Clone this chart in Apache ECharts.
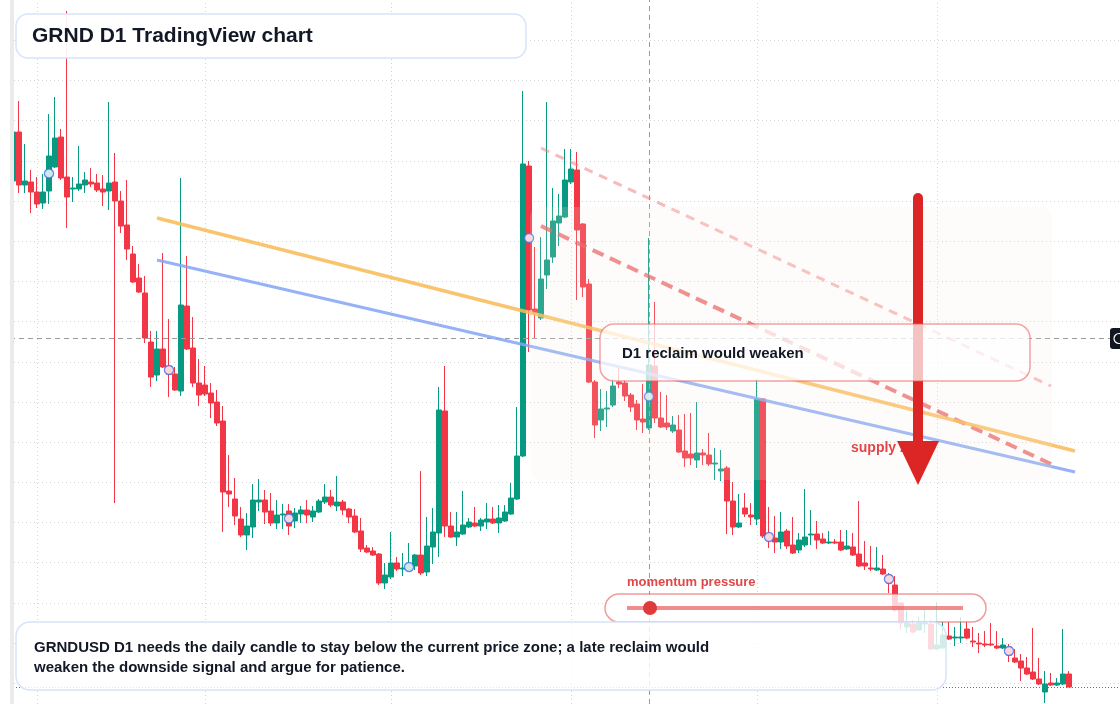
<!DOCTYPE html>
<html>
<head>
<meta charset="utf-8">
<title>GRND D1 TradingView chart</title>
<script src="https://cdn.jsdelivr.net/npm/echarts@6/dist/echarts.min.js"></script>
<style>
  html, body { margin: 0; padding: 0; background: #fff; }
  #chart { width: 1120px; height: 704px; }
</style>
</head>
<body>
<div id="chart"></div>
<script>
// daily bars from 2025-01-28, last 8 days are empty right margin
const firstDay = Date.UTC(2025, 0, 28)
const dayCount = 185
const categories = []
for (let i = 0; i < dayCount; i++) {
  categories.push(new Date(firstDay + i * 864e5).toISOString().slice(0, 10))
}

const opens = [
  1.541,1.590,1.537,1.540,1.530,1.519,1.531,1.555,1.585,1.545,
  1.533,1.533,1.537,1.540,1.539,1.533,1.531,1.540,1.521,1.497,
  1.468,1.444,1.429,1.380,1.347,1.373,1.356,1.348,1.331,1.416,
  1.374,1.339,1.337,1.329,1.320,1.301,1.231,1.223,1.203,1.187,
  1.195,1.220,1.222,1.211,1.199,1.207,1.211,1.201,1.208,1.212,
  1.205,1.210,1.220,1.225,1.216,1.220,1.213,1.206,1.191,1.174,
  1.171,1.168,1.139,1.145,1.159,1.153,1.152,1.156,1.167,1.150,
  1.175,1.189,1.311,1.196,1.185,1.188,1.195,1.199,1.196,1.200,
  1.203,1.199,1.201,1.208,1.223,1.266,1.556,1.413,1.404,1.447,
  1.465,1.499,1.505,1.540,1.552,1.498,1.438,1.340,1.302,1.313,
  1.317,1.340,1.339,1.327,1.318,1.303,1.294,1.356,1.304,1.299,
  1.291,1.292,1.271,1.268,1.262,1.269,1.267,1.258,1.251,1.254,
  1.221,1.195,1.214,1.207,1.203,1.323,1.188,1.184,1.180,1.191,
  1.177,1.172,1.177,1.187,1.188,1.183,1.179,1.180,1.180,1.173,
  1.175,1.168,1.159,1.154,1.152,1.153,1.147,1.137,1.119,1.095,
  1.098,1.092,1.098,1.098,1.073,1.074,1.086,1.084,1.084,1.093,
  1.081,1.079,1.078,1.078,1.076,1.074,1.075,1.064,1.061,1.054,
  1.050,1.043,1.030,1.039,1.037,1.038,1.048
]
const closes = [
  1.590,1.537,1.541,1.530,1.518,1.530,1.566,1.584,1.544,1.525,
  1.534,1.538,1.542,1.538,1.532,1.530,1.539,1.521,1.496,1.473,
  1.440,1.430,1.384,1.345,1.373,1.355,1.348,1.332,1.417,1.373,
  1.339,1.327,1.328,1.319,1.299,1.230,1.228,1.206,1.187,1.196,
  1.222,1.222,1.210,1.199,1.207,1.208,1.196,1.209,1.212,1.207,
  1.211,1.221,1.225,1.217,1.220,1.212,1.205,1.190,1.173,1.170,
  1.167,1.139,1.147,1.159,1.153,1.154,1.158,1.167,1.149,1.176,
  1.190,1.312,1.196,1.185,1.190,1.197,1.200,1.196,1.202,1.203,
  1.199,1.204,1.210,1.224,1.266,1.558,1.412,1.409,1.443,1.462,
  1.501,1.506,1.542,1.553,1.492,1.435,1.340,1.297,1.313,1.314,
  1.336,1.338,1.326,1.315,1.302,1.300,1.357,1.304,1.295,1.295,
  1.297,1.270,1.264,1.264,1.269,1.267,1.258,1.259,1.253,1.221,
  1.195,1.199,1.208,1.205,1.323,1.186,1.182,1.180,1.190,1.176,
  1.169,1.182,1.185,1.188,1.182,1.179,1.180,1.179,1.172,1.176,
  1.167,1.156,1.156,1.153,1.154,1.148,1.139,1.112,1.099,1.099,
  1.090,1.100,1.099,1.073,1.077,1.087,1.083,1.085,1.085,1.084,
  1.080,1.078,1.077,1.077,1.074,1.077,1.067,1.060,1.054,1.048,
  1.043,1.038,1.038,1.037,1.039,1.048,1.035
]
const lows = [
  1.540,1.529,1.529,1.509,1.514,1.513,1.518,1.554,1.542,1.494,
  1.520,1.531,1.529,1.535,1.530,1.516,1.512,1.219,1.489,1.462,
  1.439,1.429,1.379,1.335,1.341,1.354,1.325,1.331,1.326,1.372,
  1.335,1.316,1.326,1.304,1.296,1.190,1.215,1.197,1.185,1.172,
  1.184,1.211,1.198,1.196,1.193,1.193,1.187,1.194,1.199,1.199,
  1.200,1.209,1.218,1.215,1.211,1.207,1.199,1.189,1.170,1.169,
  1.166,1.137,1.133,1.143,1.151,1.146,1.151,1.152,1.147,1.146,
  1.158,1.165,1.185,1.184,1.176,1.187,1.194,1.195,1.191,1.193,
  1.198,1.189,1.200,1.207,1.222,1.265,1.370,1.384,1.402,1.433,
  1.459,1.476,1.504,1.538,1.422,1.425,1.339,1.284,1.291,1.295,
  1.315,1.334,1.321,1.310,1.292,1.289,1.292,1.299,1.294,1.292,
  1.289,1.269,1.255,1.257,1.254,1.257,1.256,1.242,1.241,1.188,
  1.187,1.194,1.205,1.197,1.197,1.184,1.174,1.169,1.173,1.173,
  1.168,1.169,1.175,1.177,1.173,1.178,1.178,1.178,1.171,1.172,
  1.166,1.155,1.152,1.151,1.151,1.147,1.129,1.110,1.092,1.089,
  1.089,1.091,1.089,1.072,1.072,1.073,1.082,1.076,1.079,1.083,
  1.075,1.069,1.075,1.076,1.073,1.073,1.060,1.059,1.041,1.047,
  1.042,1.037,1.019,1.036,1.036,1.037,1.035
]
const highs = [
  1.591,1.621,1.578,1.552,1.545,1.548,1.608,1.625,1.593,1.711,
  1.545,1.576,1.550,1.554,1.548,1.547,1.620,1.569,1.531,1.542,
  1.476,1.458,1.446,1.391,1.391,1.469,1.403,1.355,1.544,1.466,
  1.405,1.363,1.356,1.339,1.332,1.316,1.267,1.244,1.215,1.209,
  1.238,1.243,1.232,1.229,1.222,1.218,1.218,1.214,1.216,1.222,
  1.216,1.223,1.238,1.232,1.246,1.222,1.214,1.213,1.204,1.177,
  1.175,1.169,1.159,1.190,1.165,1.169,1.179,1.168,1.251,1.205,
  1.214,1.335,1.356,1.210,1.210,1.231,1.204,1.215,1.204,1.219,
  1.215,1.217,1.217,1.239,1.315,1.631,1.561,1.475,1.485,1.620,
  1.534,1.528,1.573,1.573,1.570,1.499,1.443,1.342,1.333,1.331,
  1.343,1.354,1.342,1.329,1.322,1.338,1.484,1.420,1.330,1.327,
  1.306,1.307,1.308,1.309,1.320,1.273,1.289,1.274,1.272,1.256,
  1.240,1.228,1.229,1.219,1.343,1.324,1.215,1.206,1.210,1.193,
  1.205,1.189,1.233,1.212,1.201,1.189,1.191,1.183,1.192,1.192,
  1.189,1.221,1.181,1.176,1.175,1.167,1.149,1.146,1.120,1.112,
  1.102,1.105,1.112,1.102,1.120,1.100,1.100,1.095,1.105,1.101,
  1.095,1.089,1.091,1.099,1.091,1.084,1.078,1.073,1.068,1.065,
  1.094,1.064,1.051,1.049,1.044,1.093,1.051
]

// horizontal price grid
const gridPrices = [1.039, 1.079, 1.119, 1.160, 1.200, 1.240, 1.280, 1.320, 1.360,
  1.401, 1.441, 1.481, 1.521, 1.561, 1.602, 1.642, 1.682]
// bars with the blue ring marker
const markerIdx = [6, 26, 46, 66, 86, 106, 126, 146, 166]
// crosshair
const crossIdx = 106
const crossPrice = 1.384
// drawn lines: [bar index, price]
const trendYellow = [[24, 1.504], [177, 1.271]]
const trendBlue = [[24, 1.462], [177, 1.250]]
const resistNear = [[88, 1.496], [173, 1.258]]
const resistFar = [[88, 1.574], [173, 1.336]]

const candles = opens.map((o, i) => [o, closes[i], lows[i], highs[i]])
const markers = markerIdx.map(i => [i, (opens[i] + closes[i]) / 2])
const gridLines = categories.filter(d => d.endsWith('-01')).map(d => ({ xAxis: d }))
  .concat(gridPrices.map(p => ({ yAxis: p })))
const lastClose = closes[closes.length - 1]

const FONT = '"Liberation Sans", Arial, sans-serif'
const dark = '#121826'
const redText = '#e24646'

function seg (pts, lineStyle) {
  return [{ coord: pts[0], lineStyle: lineStyle }, { coord: pts[1] }]
}

const option = {
  animation: false,
  backgroundColor: '#fff',
  grid: { left: 10, right: 0, top: 0, bottom: 0 },
  xAxis: {
    type: 'category',
    data: categories,
    boundaryGap: true,
    axisLine: { show: false },
    axisTick: { show: false },
    axisLabel: { show: false },
    splitLine: { show: false }
  },
  yAxis: {
    type: 'value',
    min: 1.018,
    max: 1.722,
    axisLine: { show: false },
    axisTick: { show: false },
    axisLabel: { show: false },
    splitLine: { show: false }
  },
  series: [
    {
      name: 'grid',
      type: 'line',
      data: [],
      silent: true,
      markLine: {
        z: 1,
        silent: true,
        precision: 3,
        symbol: ['none', 'none'],
        label: { show: false },
        lineStyle: { color: '#d4d4d4', type: [1, 3], width: 1 },
        data: gridLines
      }
    },
    {
      name: 'last price',
      type: 'line',
      data: [],
      silent: true,
      color: '#f23645',
      markLine: {
        z: 4,
        silent: true,
        precision: 3,
        symbol: ['none', 'none'],
        label: { show: false },
        lineStyle: { color: '#f23645', type: [1, 2], width: 1, opacity: 1 },
        data: [{ yAxis: lastClose }]
      }
    },
    {
      name: 'GRNDUSD',
      type: 'candlestick',
      data: candles,
      barWidth: 4.6,
      silent: true,
      itemStyle: {
        color: '#089981',
        color0: '#f23645',
        borderColor: '#089981',
        borderColor0: '#f23645',
        borderWidth: 1
      },
      markLine: {
        silent: true,
        precision: 3,
        symbol: ['none', 'none'],
        label: { show: false },
        emphasis: { disabled: true },
        data: [
          { xAxis: categories[crossIdx], lineStyle: { color: '#9a9a9a', type: [5, 4], width: 1 } },
          { yAxis: crossPrice, lineStyle: { color: '#9a9a9a', type: [5, 4], width: 1 } },
          seg(resistFar, { color: 'rgba(240,120,120,0.5)', type: [9, 7], width: 3 }),
          seg(resistNear, { color: 'rgba(230,85,85,0.75)', type: [12, 7], width: 4 }),
          seg(trendYellow, { color: 'rgba(248,186,84,0.85)', type: 'solid', width: 3.5 }),
          seg(trendBlue, { color: 'rgba(130,165,245,0.85)', type: 'solid', width: 3 })
        ]
      }
    },
    {
      name: 'markers',
      type: 'scatter',
      data: markers,
      z: 6,
      silent: true,
      symbol: 'circle',
      symbolSize: 9,
      itemStyle: { color: '#ffffff', borderColor: '#3f6fe6', borderWidth: 1.5 }
    }
  ],
  graphic: [
    // supply zone tint
    { type: 'rect', z: 10, silent: true, shape: { x: 530, y: 207, width: 522, height: 273, r: 10 }, style: { fill: 'rgba(250,236,226,0.16)' } },
    // arrow
    { type: 'rect', z: 11, silent: true, shape: { x: 913, y: 193, width: 10, height: 252, r: [5, 5, 0, 0] }, style: { fill: '#dc2626' } },
    { type: 'text', z: 12, silent: true, x: 851, y: 448, style: { text: 'supply zone', fill: redText, fontSize: 14, fontWeight: 'bold', fontFamily: FONT, verticalAlign: 'middle' } },
    { type: 'polygon', z: 13, silent: true, shape: { points: [[897, 441], [939, 441], [918, 485]] }, style: { fill: '#dc2626' } },
    // reclaim note
    { type: 'rect', z: 14, silent: true, shape: { x: 600, y: 324, width: 430, height: 57, r: 14 }, style: { fill: 'rgba(255,255,255,0.72)', stroke: 'rgba(232,90,90,0.55)', lineWidth: 1.5 } },
    { type: 'text', z: 15, silent: true, x: 622, y: 354, style: { text: 'D1 reclaim would weaken', fill: dark, fontSize: 15, fontWeight: 'bold', fontFamily: FONT, verticalAlign: 'middle' } },
    // momentum gauge
    { type: 'text', z: 15, silent: true, x: 627, y: 582, style: { text: 'momentum pressure', fill: redText, fontSize: 13, fontWeight: 'bold', fontFamily: FONT, verticalAlign: 'middle' } },
    { type: 'rect', z: 16, silent: true, shape: { x: 605, y: 594, width: 381, height: 28, r: 14 }, style: { fill: 'rgba(255,255,255,0.78)', stroke: 'rgba(232,90,90,0.6)', lineWidth: 1.5 } },
    { type: 'line', z: 17, silent: true, shape: { x1: 627, y1: 608, x2: 963, y2: 608 }, style: { stroke: 'rgba(230,80,80,0.65)', lineWidth: 4 } },
    { type: 'circle', z: 18, silent: true, shape: { cx: 650, cy: 608, r: 7 }, style: { fill: '#e03a3a' } },
    // bottom note
    { type: 'rect', z: 19, silent: true, shape: { x: 16, y: 622, width: 930, height: 68, r: 14 }, style: { fill: 'rgba(255,255,255,0.82)', stroke: '#d6e4fa', lineWidth: 1.5 } },
    { type: 'text', z: 20, silent: true, x: 34, y: 648, style: { text: 'GRNDUSD D1 needs the daily candle to stay below the current price zone; a late reclaim would', fill: dark, fontSize: 15, fontWeight: 'bold', fontFamily: FONT, verticalAlign: 'middle' } },
    { type: 'text', z: 20, silent: true, x: 34, y: 668, style: { text: 'weaken the downside signal and argue for patience.', fill: dark, fontSize: 15, fontWeight: 'bold', fontFamily: FONT, verticalAlign: 'middle' } },
    // title
    { type: 'rect', z: 21, silent: true, shape: { x: 16, y: 14, width: 510, height: 44, r: 12 }, style: { fill: 'rgba(255,255,255,0.92)', stroke: '#d6e4fa', lineWidth: 1.5 } },
    { type: 'text', z: 22, silent: true, x: 32, y: 36, style: { text: 'GRND D1 TradingView chart', fill: dark, fontSize: 21, fontWeight: 'bold', fontFamily: FONT, verticalAlign: 'middle' } },
    // left scale strip and price tag stub
    { type: 'rect', z: 30, silent: true, shape: { x: 10, y: 0, width: 4, height: 704 }, style: { fill: '#ebebeb' } },
    { type: 'rect', z: 30, silent: true, shape: { x: 1110, y: 328, width: 16, height: 21, r: 3 }, style: { fill: '#131722' } },
    { type: 'circle', z: 31, silent: true, shape: { cx: 1119, cy: 338.5, r: 5 }, style: { fill: 'none', stroke: '#ffffff', lineWidth: 1.2 } }
  ]
}

const myChart = echarts.init(document.getElementById('chart'))
myChart.setOption(option)
</script>
</body>
</html>
